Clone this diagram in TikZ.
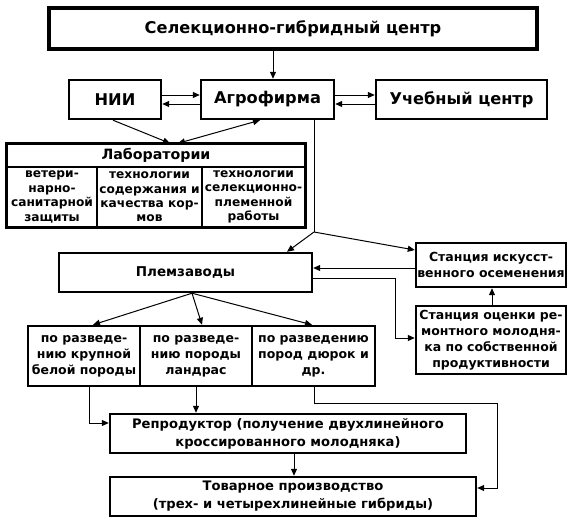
\documentclass[tikz,border=0pt]{standalone}
\usepackage{fontspec}
\setmainfont{DejaVu Sans}
\usetikzlibrary{arrows.meta}

\tikzset{
  box/.style={draw, line width=2.4pt, inner sep=0pt, align=center,
    font=\bfseries\fontsize{12.5}{16}\selectfont},
  bigtext/.style={font=\bfseries\fontsize{16.2}{18}\selectfont},
  labtext/.style={font=\bfseries\fontsize{12.2}{14.4}\selectfont},
  widetext/.style={font=\bfseries\fontsize{13.1}{18}\selectfont},
  arr/.style={-{Triangle[length=7pt,width=6pt]}, line width=1pt},
  dbl/.style={{Triangle[length=7pt,width=6pt]}-{Triangle[length=7pt,width=6pt]}, line width=1pt},
}

\begin{document}
\begin{tikzpicture}[x=1pt, y=-1pt]
  \useasboundingbox (0,0) rectangle (576,525);

  % top level
  \node[box, bigtext, line width=4pt, minimum width=488pt, minimum height=41pt] (sgc) at (293,28.5) {Селекционно-гибридный центр};

  % second row
  \node[box, bigtext, minimum width=92pt, minimum height=39pt] (nii) at (115,99.5) {НИИ};
  \node[box, bigtext, minimum width=133pt, minimum height=39pt] (agro) at (267.5,99.5) {Агрофирма};
  \node[box, bigtext, minimum width=171pt, minimum height=39pt] (ucheb) at (461.5,99.5) {Учебный центр};

  % laboratories (header + three columns)
  \node[box, line width=1.4pt, font=\bfseries\fontsize{14.2}{16}\selectfont, minimum width=298pt, minimum height=23pt] (labh) at (156,155.5) {Лаборатории};
  \node[box, labtext, line width=1.4pt, minimum width=90pt, minimum height=60pt] (lone) at (52,197) {ветери-\\нарно-\\санитарной\\защиты};
  \node[box, labtext, line width=1.4pt, minimum width=105pt, minimum height=60pt] (ltwo) at (149.5,197) {технологии\\содержания и\\качества кор-\\мов};
  \node[box, labtext, line width=1.4pt, minimum width=103pt, minimum height=60pt] (lthree) at (253.5,197) {технологии\\селекционно-\\племенной\\работы};
  \draw[line width=2.6pt] (labh.north west) rectangle (lthree.south east);

  % breeding farms and stations
  \node[box, font=\bfseries\fontsize{13.5}{16}\selectfont, minimum width=253pt, minimum height=39pt] (plem) at (185.5,272.5) {Племзаводы};
  \node[box, minimum width=150pt, minimum height=44pt] (stai) at (491,265) {Станция искусст-\\венного осеменения};
  \node[box, minimum width=150pt, minimum height=68pt] (stoc) at (491,340) {Станция оценки ре-\\монтного молодня-\\ка по собственной\\продуктивности};

  % breeds
  \node[box, minimum width=112pt, minimum height=60pt] (bone) at (84,356) {по разведе-\\нию крупной\\белой породы};
  \node[box, minimum width=112pt, minimum height=60pt] (btwo) at (196,356) {по разведе-\\нию породы\\ландрас};
  \node[box, minimum width=123pt, minimum height=60pt] (bthree) at (313.5,356) {по разведению\\пород дюрок и\\др.};

  % bottom rows
  \node[box, widetext, minimum width=356pt, minimum height=39pt] (repro) at (288,433.5) {Репродуктор (получение двухлинейного\\кроссированного молодняка)};
  \node[box, widetext, minimum width=366pt, minimum height=39pt] (tovar) at (293,496.5) {Товарное производство\\(трех- и четырехлинейные гибриды)};

  % connectors, top part
  \draw[arr] (sgc.south -| 273,0) -- (agro.north -| 273,0);
  \draw[arr] (nii.east |- 0,95) -- (agro.west |- 0,95);
  \draw[arr] (agro.west |- 0,104) -- (nii.east |- 0,104);
  \draw[arr] (agro.east |- 0,95) -- (ucheb.west |- 0,95);
  \draw[arr] (ucheb.west |- 0,104) -- (agro.east |- 0,104);
  \draw[arr] (nii.south -| 113,0) -- (labh.north -| 170,0);
  \draw[dbl] (labh.north -| 178,0) -- (agro.south -| 260,0);

  % fork from Agrofirma
  \coordinate (fork) at (314,232);
  \draw[line width=1pt] (agro.south -| fork) -- (fork);
  \draw[arr] (fork) -- (plem.north -| 287,0);
  \draw[arr] (fork) -- (stai.west |- 0,250);
  \draw[arr] (stai.west |- 0,268) -- (plem.east |- 0,268);
  \draw[arr] (plem.east |- 0,278) -| (395,338) -- (stoc.west |- 0,338);
  \draw[arr] (stoc.north -| 492,0) -- (stai.south -| 492,0);

  % breeds
  \draw[arr] (plem.south -| 192,0) -- (bone.north -| 93,0);
  \draw[arr] (plem.south -| 192,0) -- (btwo.north -| 202,0);
  \draw[arr] (plem.south -| 192,0) -- (bthree.north -| 312,0);

  % to reproducer and commercial production
  \draw[arr] (bone.south -| 89,0) |- (repro.west |- 0,423);
  \draw[arr] (btwo.south -| 196,0) -- (repro.north -| 196,0);
  \draw[arr] (bthree.south -| 314,0) -- (314,403) -| (497,488) -- (tovar.east |- 0,488);
  \draw[arr] (repro.south -| 294,0) -- (tovar.north -| 294,0);

\end{tikzpicture}
\end{document}
